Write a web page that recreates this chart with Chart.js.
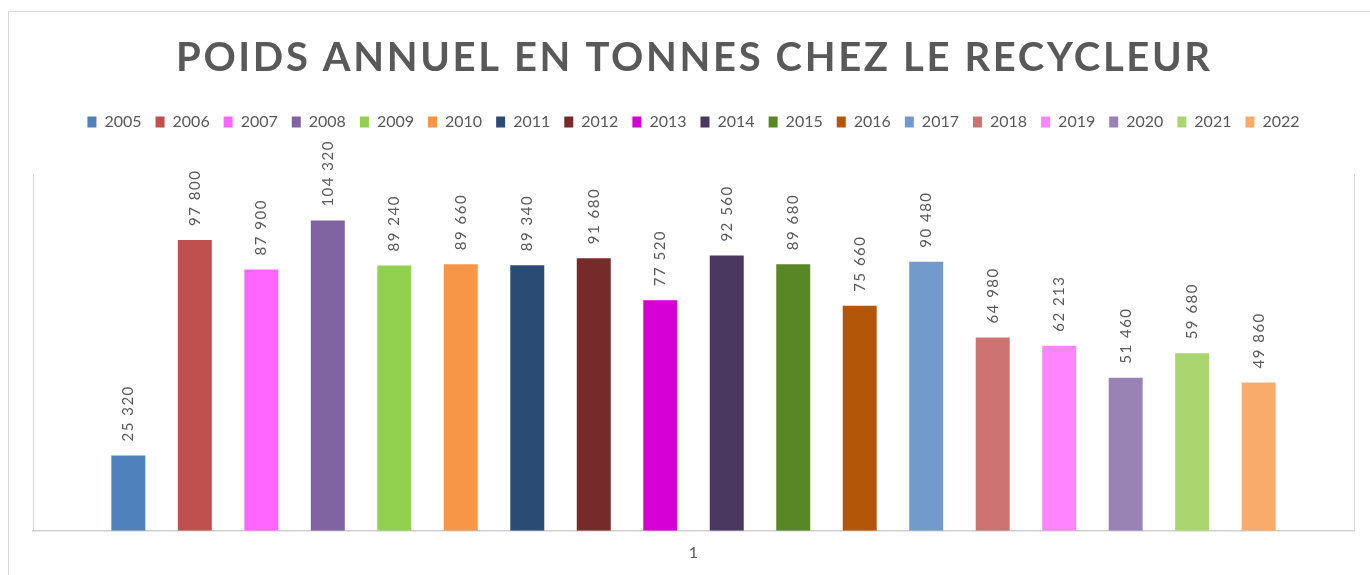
<!DOCTYPE html>
<html lang="fr">
<head>
<meta charset="utf-8">
<title>Poids annuel en tonnes chez le recycleur</title>
<script src="https://cdn.jsdelivr.net/npm/chart.js@4/dist/chart.umd.min.js"></script>
<style>
  html, body { margin: 0; padding: 0; background: #fff; overflow: hidden; }
  .frame { position: absolute; left: 8px; top: 11px; width: 1400px; height: 600px; border: 1.5px solid #d9d9d9; }
  .wrap { position: absolute; left: 0; top: 0; width: 1370px; height: 575px; }
</style>
</head>
<body>
<div class="frame"></div>
<div class="wrap"><canvas id="myChart"></canvas></div>
<script>
const title = "POIDS ANNUEL EN TONNES CHEZ LE RECYCLEUR";
const categories = ["1"];
const years = ["2005", "2006", "2007", "2008", "2009", "2010", "2011", "2012", "2013",
  "2014", "2015", "2016", "2017", "2018", "2019", "2020", "2021", "2022"];
const tonnes = [25320, 97800, 87900, 104320, 89240, 89660, 89340, 91680, 77520,
  92560, 89680, 75660, 90480, 64980, 62213, 51460, 59680, 49860];
const colors = ["#4F81BD", "#C0504D", "#FF66FF", "#8064A2", "#92D050", "#F79646",
  "#2A4B74", "#772A2A", "#D600D6", "#4B3860", "#5A8726", "#B45608",
  "#729ACA", "#CD7371", "#FF85FF", "#9983B5", "#A9D66E", "#F9AB6B"];

const grey = "#595959";
const font = "Lato, 'Open Sans', sans-serif";

// nombre avec espace comme séparateur des milliers
const formatFr = (v) => String(v).replace(/\B(?=(\d{3})+(?!\d))/g, " ");

const datasets = years.map((y, i) => ({
  label: y,
  data: [tonnes[i]],
  backgroundColor: colors[i],
  borderWidth: 0,
  categoryPercentage: 0.906,
  barPercentage: 0.511
}));

// titre dessiné à la main pour avoir l'espacement des lettres
const titlePlugin = {
  id: "titre",
  afterDraw(chart) {
    const ctx = chart.ctx;
    ctx.save();
    ctx.font = "bold 40px " + font;
    ctx.fillStyle = grey;
    ctx.textAlign = "left";
    ctx.textBaseline = "middle";
    const w = ctx.measureText(title).width;
    const spacing = Math.max(0, (1034 - w) / (title.length - 1));
    ctx.letterSpacing = spacing + "px";
    ctx.fillText(title, 693 - 1034 / 2, 58);
    ctx.restore();
  }
};

// étiquettes de valeurs verticales au-dessus des barres
const labelsPlugin = {
  id: "etiquettes",
  afterDatasetsDraw(chart) {
    const ctx = chart.ctx;
    ctx.save();
    ctx.font = "15px " + font;
    ctx.fillStyle = grey;
    ctx.letterSpacing = "1.5px";
    ctx.textAlign = "left";
    ctx.textBaseline = "middle";
    chart.data.datasets.forEach((ds, i) => {
      const meta = chart.getDatasetMeta(i);
      meta.data.forEach((bar, j) => {
        ctx.save();
        ctx.translate(bar.x, bar.y - 14);
        ctx.rotate(-Math.PI / 2);
        ctx.fillText(formatFr(ds.data[j]), 0, 0);
        ctx.restore();
      });
    });
    ctx.restore();
  }
};

// espace sous la légende
const legendGap = {
  id: "legendGap",
  beforeInit(chart) {
    const fit = chart.legend.fit;
    chart.legend.fit = function () {
      fit.call(this);
      this.height += 34;
    };
  }
};

const ctx = document.getElementById("myChart");
new Chart(ctx, {
  type: "bar",
  data: { labels: categories, datasets: datasets },
  options: {
    responsive: true,
    maintainAspectRatio: false,
    animation: false,
    layout: { padding: { top: 100, left: 33, right: 16, bottom: 0 } },
    plugins: {
      title: { display: false },
      tooltip: { enabled: false },
      legend: {
        position: "top",
        labels: {
          boxWidth: 9,
          boxHeight: 11,
          padding: 14,
          color: grey,
          font: { family: font, size: 16 }
        }
      }
    },
    scales: {
      x: {
        offset: true,
        grid: { offset: true, color: "#d9d9d9", drawTicks: false },
        border: { color: "#cfcfcf", width: 1.5 },
        ticks: { color: grey, padding: 12.5, font: { family: font, size: 16 } }
      },
      y: {
        display: false,
        min: 0,
        max: 120000
      }
    }
  },
  plugins: [titlePlugin, labelsPlugin, legendGap]
});
</script>
</body>
</html>
